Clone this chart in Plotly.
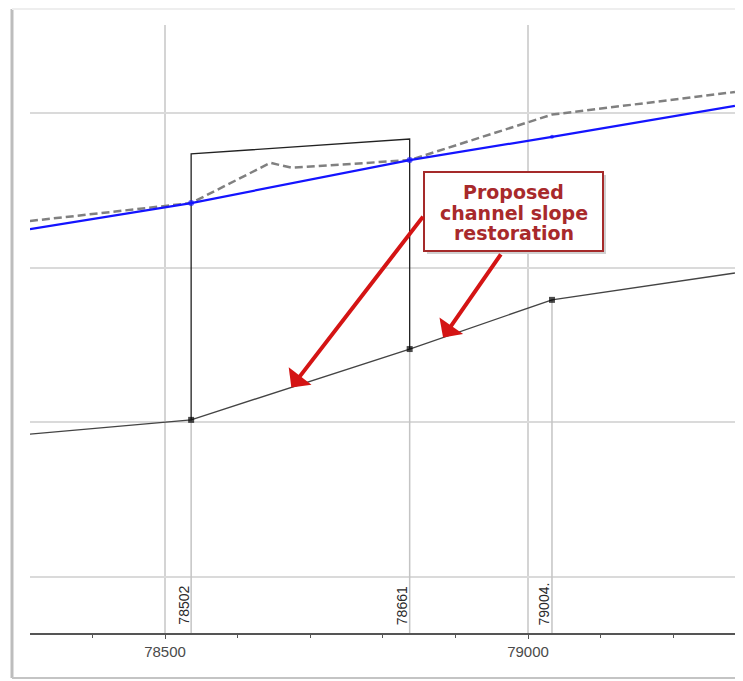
import numpy as np
import plotly.graph_objects as go

# ---- data -------------------------------------------------------------
station_x = [78536, 78837, 79033]
station_labels = ["78502", "78661", "79004."]

ground_x = [78314, 78536, 78837, 79033, 79285]
ground_y = [14.62, 15.08, 17.37, 18.96, 19.83]

wsel_x = [78314, 78536, 78837, 79033, 79285]
wsel_y = [21.25, 22.09, 23.48, 24.23, 25.23]

dash_x = [78314, 78536, 78645, 78675, 78837, 79033, 79285]
dash_y = [21.51, 22.09, 23.39, 23.23, 23.48, 24.95, 25.68]

bridge_x = [78536, 78536, 78837, 78837]
bridge_y = [15.08, 23.68, 24.16, 17.37]

annot_lines = ["Proposed", "channel slope", "restoration"]
arrow_tip_x = [78674, 78883]
arrow_tail_x = [78857, 78964]
arrow_tail_y = [21.70, 20.48]

X_RANGE = [78314.05, 79285.1]
Y_RANGE = [8.1895, 27.847]

# ---- geometry (page pixels; the page body adds an 8px offset) ----------
OFF = 8
W, H = 743 - OFF, 681 - OFF
PL, PR, PT, PB = 30, 735, 25, 633          # plot area in page pixels
ML, MT = PL - OFF, PT - OFF
MR = W - (PR - OFF)
MB = H - (PB - OFF)
PW, PH = PR - PL, PB - PT


def px(xp):
    return (xp - PL) / PW


def py(yp):
    return (PB - yp) / PH


fig = go.Figure()

# station vertical lines (below ground)
gy_st = np.interp(station_x, ground_x, ground_y)
for sx, gy in zip(station_x, gy_st):
    fig.add_trace(go.Scatter(x=[sx, sx], y=[Y_RANGE[0], gy], mode="lines",
                             line=dict(color="#c4c4c4", width=1.5),
                             hoverinfo="skip", showlegend=False))

# bridge outline
fig.add_trace(go.Scatter(x=bridge_x, y=bridge_y, mode="lines",
                         line=dict(color="#222222", width=1.3),
                         showlegend=False))

# ground line
g_sizes = [6 if x in station_x else 0 for x in ground_x]
fig.add_trace(go.Scatter(x=ground_x, y=ground_y, mode="lines+markers",
                         line=dict(color="#444444", width=1.4),
                         marker=dict(symbol="square", size=g_sizes, color="#000000",
                                     line=dict(width=0)),
                         showlegend=False))

# dashed line
fig.add_trace(go.Scatter(x=dash_x, y=dash_y, mode="lines",
                         line=dict(color="#808080", width=2.5, dash="8px,4px"),
                         showlegend=False))

# water surface (blue)
w_sizes = [0, 6, 6, 4, 0]
fig.add_trace(go.Scatter(x=wsel_x, y=wsel_y, mode="lines+markers",
                         line=dict(color="#1414ff", width=2.2),
                         marker=dict(size=w_sizes, color="#1414ff", line=dict(width=0)),
                         showlegend=False))

# station labels
for sx, lab in zip(station_x, station_labels):
    fig.add_annotation(x=sx, xref="x", y=py(627), yref="paper", text=lab,
                       textangle=-90, showarrow=False, xanchor="right",
                       yanchor="bottom", xshift=2,
                       font=dict(family="Liberation Sans, Arial", size=14, color="#2a2a2a"))

# arrows
tip_y = np.interp(arrow_tip_x, ground_x, ground_y)
for tx, ty, ax_, ay_ in zip(arrow_tip_x, tip_y, arrow_tail_x, arrow_tail_y):
    fig.add_annotation(x=tx, y=ty, ax=ax_, ay=ay_, xref="x", yref="y",
                       axref="x", ayref="y", text="", showarrow=True,
                       arrowhead=1, arrowsize=1.2, arrowwidth=4,
                       arrowcolor="#d41414", standoff=0)

# annotation box (shadow + box) and image frame
shapes = [
    dict(type="rect", xref="paper", yref="paper", x0=px(427), x1=px(606),
         y0=py(175), y1=py(254), line=dict(width=0), fillcolor="#d0d0d0", layer="above"),
    dict(type="rect", xref="paper", yref="paper", x0=px(424), x1=px(603),
         y0=py(172), y1=py(251), line=dict(color="#a52a2a", width=2),
         fillcolor="#ffffff", layer="above"),
    dict(type="line", xref="paper", yref="paper", x0=px(12), x1=px(12),
         y0=py(9), y1=py(678), line=dict(color="#bdbdbd", width=3)),
    dict(type="line", xref="paper", yref="paper", x0=px(12), x1=px(743),
         y0=py(9), y1=py(9), line=dict(color="#eeeeee", width=2)),
    dict(type="line", xref="paper", yref="paper", x0=px(12), x1=px(743),
         y0=py(678), y1=py(678), line=dict(color="#c4c4c4", width=2)),
]
for s in shapes:
    fig.add_shape(**s)

line_py = [192, 213, 233]
for t, yp in zip(annot_lines, line_py):
    fig.add_annotation(x=px(513.5), y=py(yp), xref="paper", yref="paper",
                       text="<b>" + t + "</b>", showarrow=False,
                       xanchor="center", yanchor="middle",
                       font=dict(family="DejaVu Sans", size=19, color="#a8292b"))

fig.update_layout(
    width=W, height=H,
    margin=dict(l=ML, r=MR, t=MT, b=MB, pad=0),
    plot_bgcolor="white", paper_bgcolor="white",
    showlegend=False,
    xaxis=dict(range=X_RANGE, tick0=78500, dtick=500, tickformat="d",
               showgrid=True, gridcolor="#d4d4d4", gridwidth=1.5, zeroline=False,
               showline=True, linecolor="#555555", linewidth=2,
               ticks="outside", ticklen=4, tickcolor="#555555",
               tickfont=dict(family="Liberation Sans, Arial", size=15, color="#4a4a4a"),
               minor=dict(dtick=100, tick0=78500, ticks="outside", ticklen=3,
                          tickcolor="#555555", showgrid=False)),
    yaxis=dict(range=Y_RANGE, tick0=0, dtick=5, showgrid=True,
               gridcolor="#dadada", gridwidth=1.5, zeroline=False,
               showline=False, showticklabels=False, ticks=""),
)

fig.write_html("out.html")
